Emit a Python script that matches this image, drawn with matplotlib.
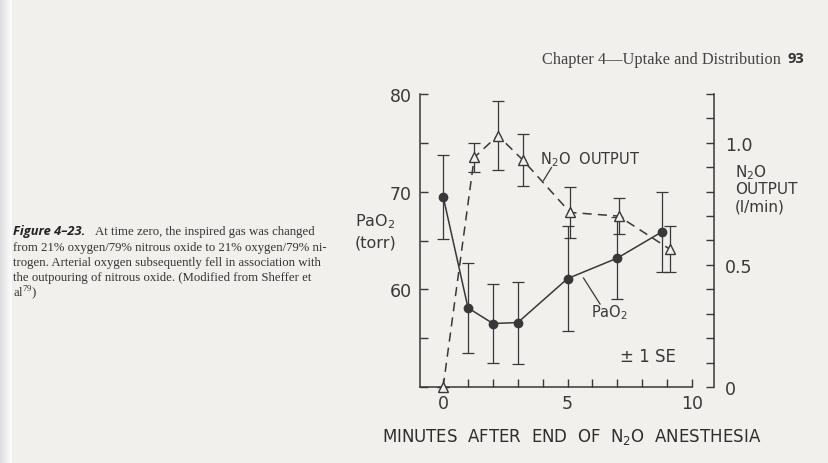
import numpy as np
import matplotlib.pyplot as plt

# PaO2 (torr), filled circles, solid line
pao2_t   = [0, 1, 2, 3, 5, 7, 8.8]
pao2     = [69.5, 58.1, 56.5, 56.6, 61.1, 63.2, 65.9]
pao2_se  = [4.3, 4.6, 4.0, 4.2, 5.4, 4.2, 4.1]

# N2O output (l/min), open triangles, dashed line
n2o_t    = [0, 1.25, 2.2, 3.2, 5.1, 7.05, 9.1]
n2o      = [0.0, 0.94, 1.03, 0.93, 0.715, 0.70, 0.565]
n2o_se   = [0.0, 0.06, 0.14, 0.105, 0.105, 0.075, 0.095]

x_ticks  = [0, 5, 10]
left_ticks  = [60, 70, 80]
right_ticks = [0, 0.5, 1.0]
right_tick_labels = ["0", "0.5", "1.0"]

caption = ["At time zero, the inspired gas was changed",
           "from 21% oxygen/79% nitrous oxide to 21% oxygen/79% ni-",
           "trogen. Arterial oxygen subsequently fell in association with",
           "the outpouring of nitrous oxide. (Modified from Sheffer et",
           r"al$^{\mathregular{79}}$)"]

bg = '#f1f0ed'
ink = '#383838'
W, H = 829, 464

def fx(px):
    return px / W

def fy(py):
    return 1 - py / H

fig = plt.figure(figsize=(8.29, 4.64), dpi=100, facecolor=bg)

# binding shadow on left edge
sh = fig.add_axes([0, 0, 12 / W, 1])
grad = np.linspace(0, 1, 50).reshape(1, -1)
sh.imshow(grad, aspect='auto', cmap='gray', vmin=-7, vmax=1.05, extent=[0, 1, 0, 1])
sh.axis('off')

# page header
fig.text(fx(781), fy(60), "Chapter 4\u2014Uptake and Distribution", ha='right', va='center',
         family='Liberation Serif', fontsize=11.8, color='#444444')
fig.text(fx(788), fy(59), "93", ha='left', va='center', family='Open Sans',
         fontweight='bold', fontsize=10.5, color='#333333')

# caption
fig.text(fx(13), fy(232), "Figure 4\u201323.", ha='left', va='center', family='Open Sans',
         fontweight='bold', style='italic', fontsize=9.3, color='#222222')
cap_y = [232, 247.5, 263, 278.5, 293]
cap_x = [95, 13, 13, 13, 13]
for i in range(len(caption)):
    fig.text(fx(cap_x[i]), fy(cap_y[i]), caption[i], ha='left', va='center',
             family='Liberation Serif', fontsize=9.2, color='#333333')

# chart
ax = fig.add_axes([fx(420), fy(388), (692 - 420) / W, (388 - 95) / H])
ax.set_facecolor('none')
ax.set_xlim(-0.93, 10.0)
ax.set_ylim(50, 80)
for s in ['top', 'right']:
    ax.spines[s].set_visible(False)
for s in ['left', 'bottom']:
    ax.spines[s].set_color(ink)
    ax.spines[s].set_linewidth(1.1)
ax.set_xticks(np.arange(0, 11, 1))
ax.set_xticklabels([str(t) if t in x_ticks else "" for t in range(11)])
ax.set_yticks(np.arange(50, 81, 5))
ax.set_yticklabels([str(t) if t in left_ticks else "" for t in range(50, 81, 5)])
ax.tick_params(direction='in', length=6, width=1, colors=ink, labelsize=12.5)
ax.tick_params(axis='x', pad=5)
ax.tick_params(axis='y', pad=6)

ax.errorbar(pao2_t, pao2, yerr=pao2_se, color=ink, lw=1.1, marker='o', ms=6,
            mfc=ink, mec=ink, ecolor=ink, elinewidth=0.9, capsize=4, capthick=0.9,
            clip_on=False, zorder=3)

ax2 = ax.twinx()
ax2.set_facecolor('none')
ax2.set_ylim(0, 1.2)
for s in ['top', 'left', 'bottom']:
    ax2.spines[s].set_visible(False)
ax2.spines['right'].set_position(('axes', 1.08))
ax2.spines['right'].set_color(ink)
ax2.spines['right'].set_linewidth(1.1)
ax2.set_yticks(np.round(np.arange(0, 1.21, 0.1), 1))
ax2.set_yticklabels([right_tick_labels[right_ticks.index(v)] if v in right_ticks else ""
                     for v in np.round(np.arange(0, 1.21, 0.1), 1)])
ax2.tick_params(direction='in', length=6, width=1, colors=ink, labelsize=12.5, pad=8)

ax2.errorbar(n2o_t, n2o, yerr=n2o_se, color=ink, lw=1.1, ls=(0, (6, 4)), marker='^', ms=7,
             mfc=bg, mec=ink, ecolor=ink, elinewidth=0.9, capsize=4, capthick=0.9,
             clip_on=False, zorder=4)

# labels on the chart
fig.text(fx(355), fy(222), r"PaO$_\mathregular{2}$", ha='left', va='center', fontsize=11.5, color=ink)
fig.text(fx(355), fy(243), "(torr)", ha='left', va='center', fontsize=11.5, color=ink)
fig.text(fx(735), fy(173), r"N$_\mathregular{2}$O", ha='left', va='center', fontsize=11, color=ink)
fig.text(fx(735), fy(190), "OUTPUT", ha='left', va='center', fontsize=11, color=ink)
fig.text(fx(735), fy(207), "(l/min)", ha='left', va='center', fontsize=11, color=ink)
fig.text(fx(590), fy(160), r"N$_\mathregular{2}$O  OUTPUT", ha='center', va='center', fontsize=10.5, color=ink)
fig.text(fx(609), fy(313), r"PaO$_\mathregular{2}$", ha='center', va='center', fontsize=10.5, color=ink)
fig.text(fx(648), fy(357), "\u00b1 1 SE", ha='center', va='center', fontsize=12, color=ink)
fig.text(fx(572), fy(437), r"MINUTES  AFTER  END  OF  N$_\mathregular{2}$O  ANESTHESIA",
         ha='center', va='center', fontsize=12, color='#2e2e2e')

# leader lines
fig.add_artist(plt.Line2D([fx(551.5), fx(543.5)], [fy(168.5), fy(181.5)], color=ink, lw=0.9))
fig.add_artist(plt.Line2D([fx(600), fx(583.5)], [fy(305), fy(279)], color=ink, lw=0.9))

plt.savefig("out.png", dpi=100, facecolor=bg)
